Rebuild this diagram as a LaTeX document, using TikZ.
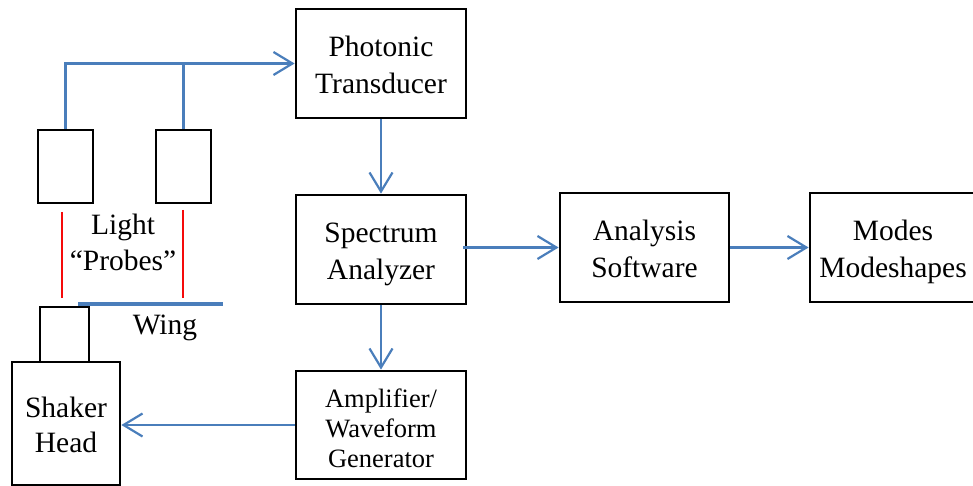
\documentclass[tikz,border=0pt]{standalone}
\usepackage{fontspec}
\setmainfont{Liberation Serif}
\usetikzlibrary{arrows.meta}

\definecolor{wireblue}{RGB}{74,126,187}
\definecolor{beamred}{RGB}{245,10,10}

% vertical spacers that fix where the lines sit inside a box
\newcommand{\tophold}[1]{\rule{0pt}{#1}}
\newcommand{\bothold}[1]{\rule[-#1]{0pt}{#1}}

\tikzset{
  block/.style={draw=black, line width=2.8pt, align=center, inner sep=0pt,
    font=\rmfamily\fontsize{29.5}{36.5}\selectfont},
  smallblock/.style={draw=black, line width=2.8pt, inner sep=0pt},
  wire/.style={draw=wireblue, line width=2.2pt},
  flow/.style={wire, -{Straight Barb[length=19pt, width=23pt, line width=2.2pt]}},
  beam/.style={draw=beamred, line width=1.8pt},
  wingbar/.style={draw=wireblue, line width=4.5pt},
  txtlabel/.style={align=center, inner sep=0pt, font=\rmfamily\fontsize{29.5}{36}\selectfont}
}

\begin{document}
\begin{tikzpicture}[x=1pt, y=-1pt]
  \useasboundingbox (0,0) rectangle (973,486);
  \clip (0,0) rectangle (973,486);

  % signal chain
  \node[block, minimum width=170pt, minimum height=109pt] (photo) at (381,63.5)
    {\tophold{29.6pt}Photonic\\Transducer\bothold{7pt}};
  \node[block, minimum width=170pt, minimum height=109pt] (spec) at (381,249.5)
    {\tophold{29.6pt}Spectrum\\Analyzer\bothold{7pt}};
  \node[block, minimum width=169pt, minimum height=109pt] (anal) at (644.5,247.5)
    {\tophold{29.6pt}Analysis\\Software\bothold{7pt}};
  \node[block, minimum width=166pt, minimum height=109pt] (modes) at (893,247.5)
    {\tophold{29.6pt}Modes\\Modeshapes\bothold{7pt}};
  \node[block, minimum width=170pt, minimum height=108pt,
        font=\rmfamily\fontsize{26.5}{30}\selectfont] (amp) at (381,425)
    {\tophold{32.6pt}Amplifier/\\Waveform\\Generator\bothold{7pt}};

  % shaker with its mount
  \node[block, minimum width=108pt, minimum height=123pt,
        font=\rmfamily\fontsize{29.5}{35}\selectfont] (shaker) at (66,423.5)
    {\tophold{25.6pt}Shaker\\Head\bothold{2pt}};
  \node[smallblock, minimum width=49pt, minimum height=55pt] (mount) at (64.5,334.5) {};

  % light probes
  \node[smallblock, minimum width=55pt, minimum height=73pt] (probeL) at (65.5,166.5) {};
  \node[smallblock, minimum width=55pt, minimum height=73pt] (probeR) at (183.5,166.5) {};

  % light beams and the wing
  \coordinate (beamLtop) at (62,212);
  \coordinate (beamLbot) at (62,298);
  \coordinate (beamRtop) at (183,210);
  \coordinate (beamRbot) at (183,298);
  \draw[beam] (beamLtop) -- (beamLbot);
  \draw[beam] (beamRtop) -- (beamRbot);
  \coordinate (wingL) at (78,304);
  \coordinate (wingR) at (223,304);
  \draw[wingbar] (wingL) -- (wingR);

  \node[txtlabel] (lightlbl) at (123,242) {Light\\“Probes”};
  \node[txtlabel] (winglbl) at (165,328) {Wing};

  % connectors
  \draw[flow] (probeL.north) |- (photo.west);
  \draw[wire] (probeR.north) -- (probeR.north |- photo.west);
  \draw[flow] (photo.south) -- (spec.north);
  \draw[flow] ([xshift=-4pt]spec.east |- anal.west) -- (anal.west);
  \draw[flow] (anal.east) -- (modes.west);
  \draw[flow] (spec.south) -- (amp.north);
  \draw[flow] (amp.west) -- (shaker.east |- amp.west);
\end{tikzpicture}
\end{document}
